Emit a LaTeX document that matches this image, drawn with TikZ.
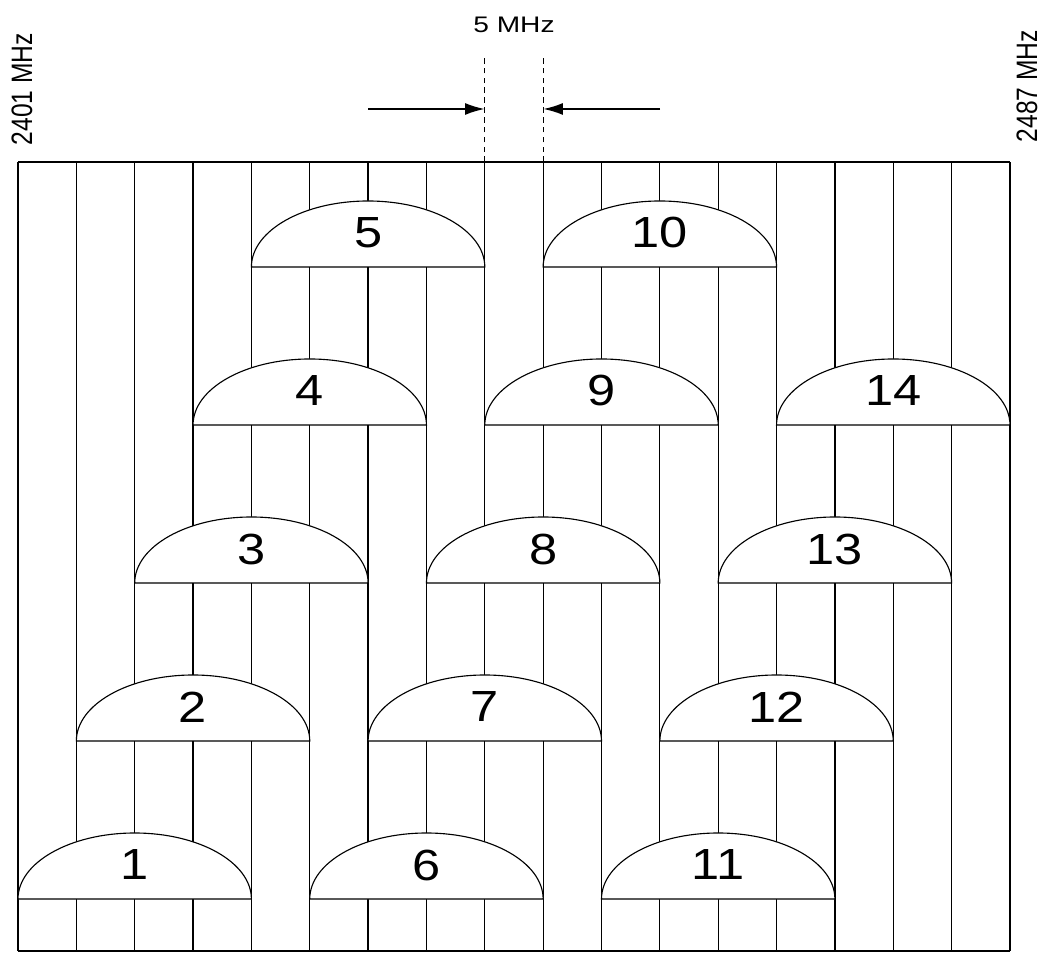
\documentclass[tikz,border=0pt]{standalone}
\usepackage{fontspec}
\setmainfont{Liberation Sans}
\usetikzlibrary{arrows.meta}

\begin{document}
\begin{tikzpicture}[x=0.025cm, y=0.025cm,
    grid/.style={line width=0.9pt},
    dome/.style={draw, line width=0.8pt, fill=white},
    chlabel/.style={font=\fontsize{31}{31}\selectfont, inner sep=0pt},
    marker/.style={dash pattern=on 4pt off 3pt, line width=0.8pt},
    pointer/.style={line width=1.4pt, -{Latex[length=14pt,width=8.5pt]}},
    freq/.style={font=\fontsize{17.5}{18}\selectfont, rotate=90, inner sep=0pt}
]
\useasboundingbox (0,0) rectangle (1044,953);
% band grid, 5 MHz apart
\foreach \i in {0,...,17}
  \draw[grid] ({18+58.35*\i},2) -- ({18+58.35*\i},791);
\draw[grid] (18,791) -- (1010,791);
\draw[grid] (18,2) -- (1010,2);
% channels 1..14
\foreach \c in {1,...,14} {
  \pgfmathsetmacro{\xl}{18+58.35*(\c-1)}
  \pgfmathsetmacro{\yb}{54+158*mod(\c-1,5)}
  \draw[dome] (\xl,\yb) -- ++(233.4,0) arc[start angle=0, end angle=180, x radius=116.7, y radius=66] -- cycle;
  \node[chlabel] (ch\c) at ({\xl+116.7},{\yb+34}) {\scalebox{1.16}[1]{\c}};
}
% spacing marker
\coordinate (loBase) at (484.8,791);
\coordinate (loTop) at (484.8,896);
\coordinate (hiBase) at (543.15,791);
\coordinate (hiTop) at (543.15,896);
\coordinate (loTip) at (484.8,844);
\coordinate (hiTip) at (543.15,844);
\coordinate (loTail) at (368,844);
\coordinate (hiTail) at (660,844);
\draw[marker] (loBase) -- (loTop);
\draw[marker] (hiBase) -- (hiTop);
\draw[pointer] (loTail) -- (loTip);
\draw[pointer] (hiTail) -- (hiTip);
\node[font=\fontsize{16}{16}\selectfont, inner sep=0pt] (spacing) at (514,928) {\scalebox{1.25}[1]{5 MHz}};
\node[freq] (fmin) at (22,864) {\scalebox{1}[1.2]{2401 MHz}};
\node[freq] (fmax) at (1027,867) {\scalebox{1}[1.2]{2487 MHz}};
\end{tikzpicture}
\end{document}
